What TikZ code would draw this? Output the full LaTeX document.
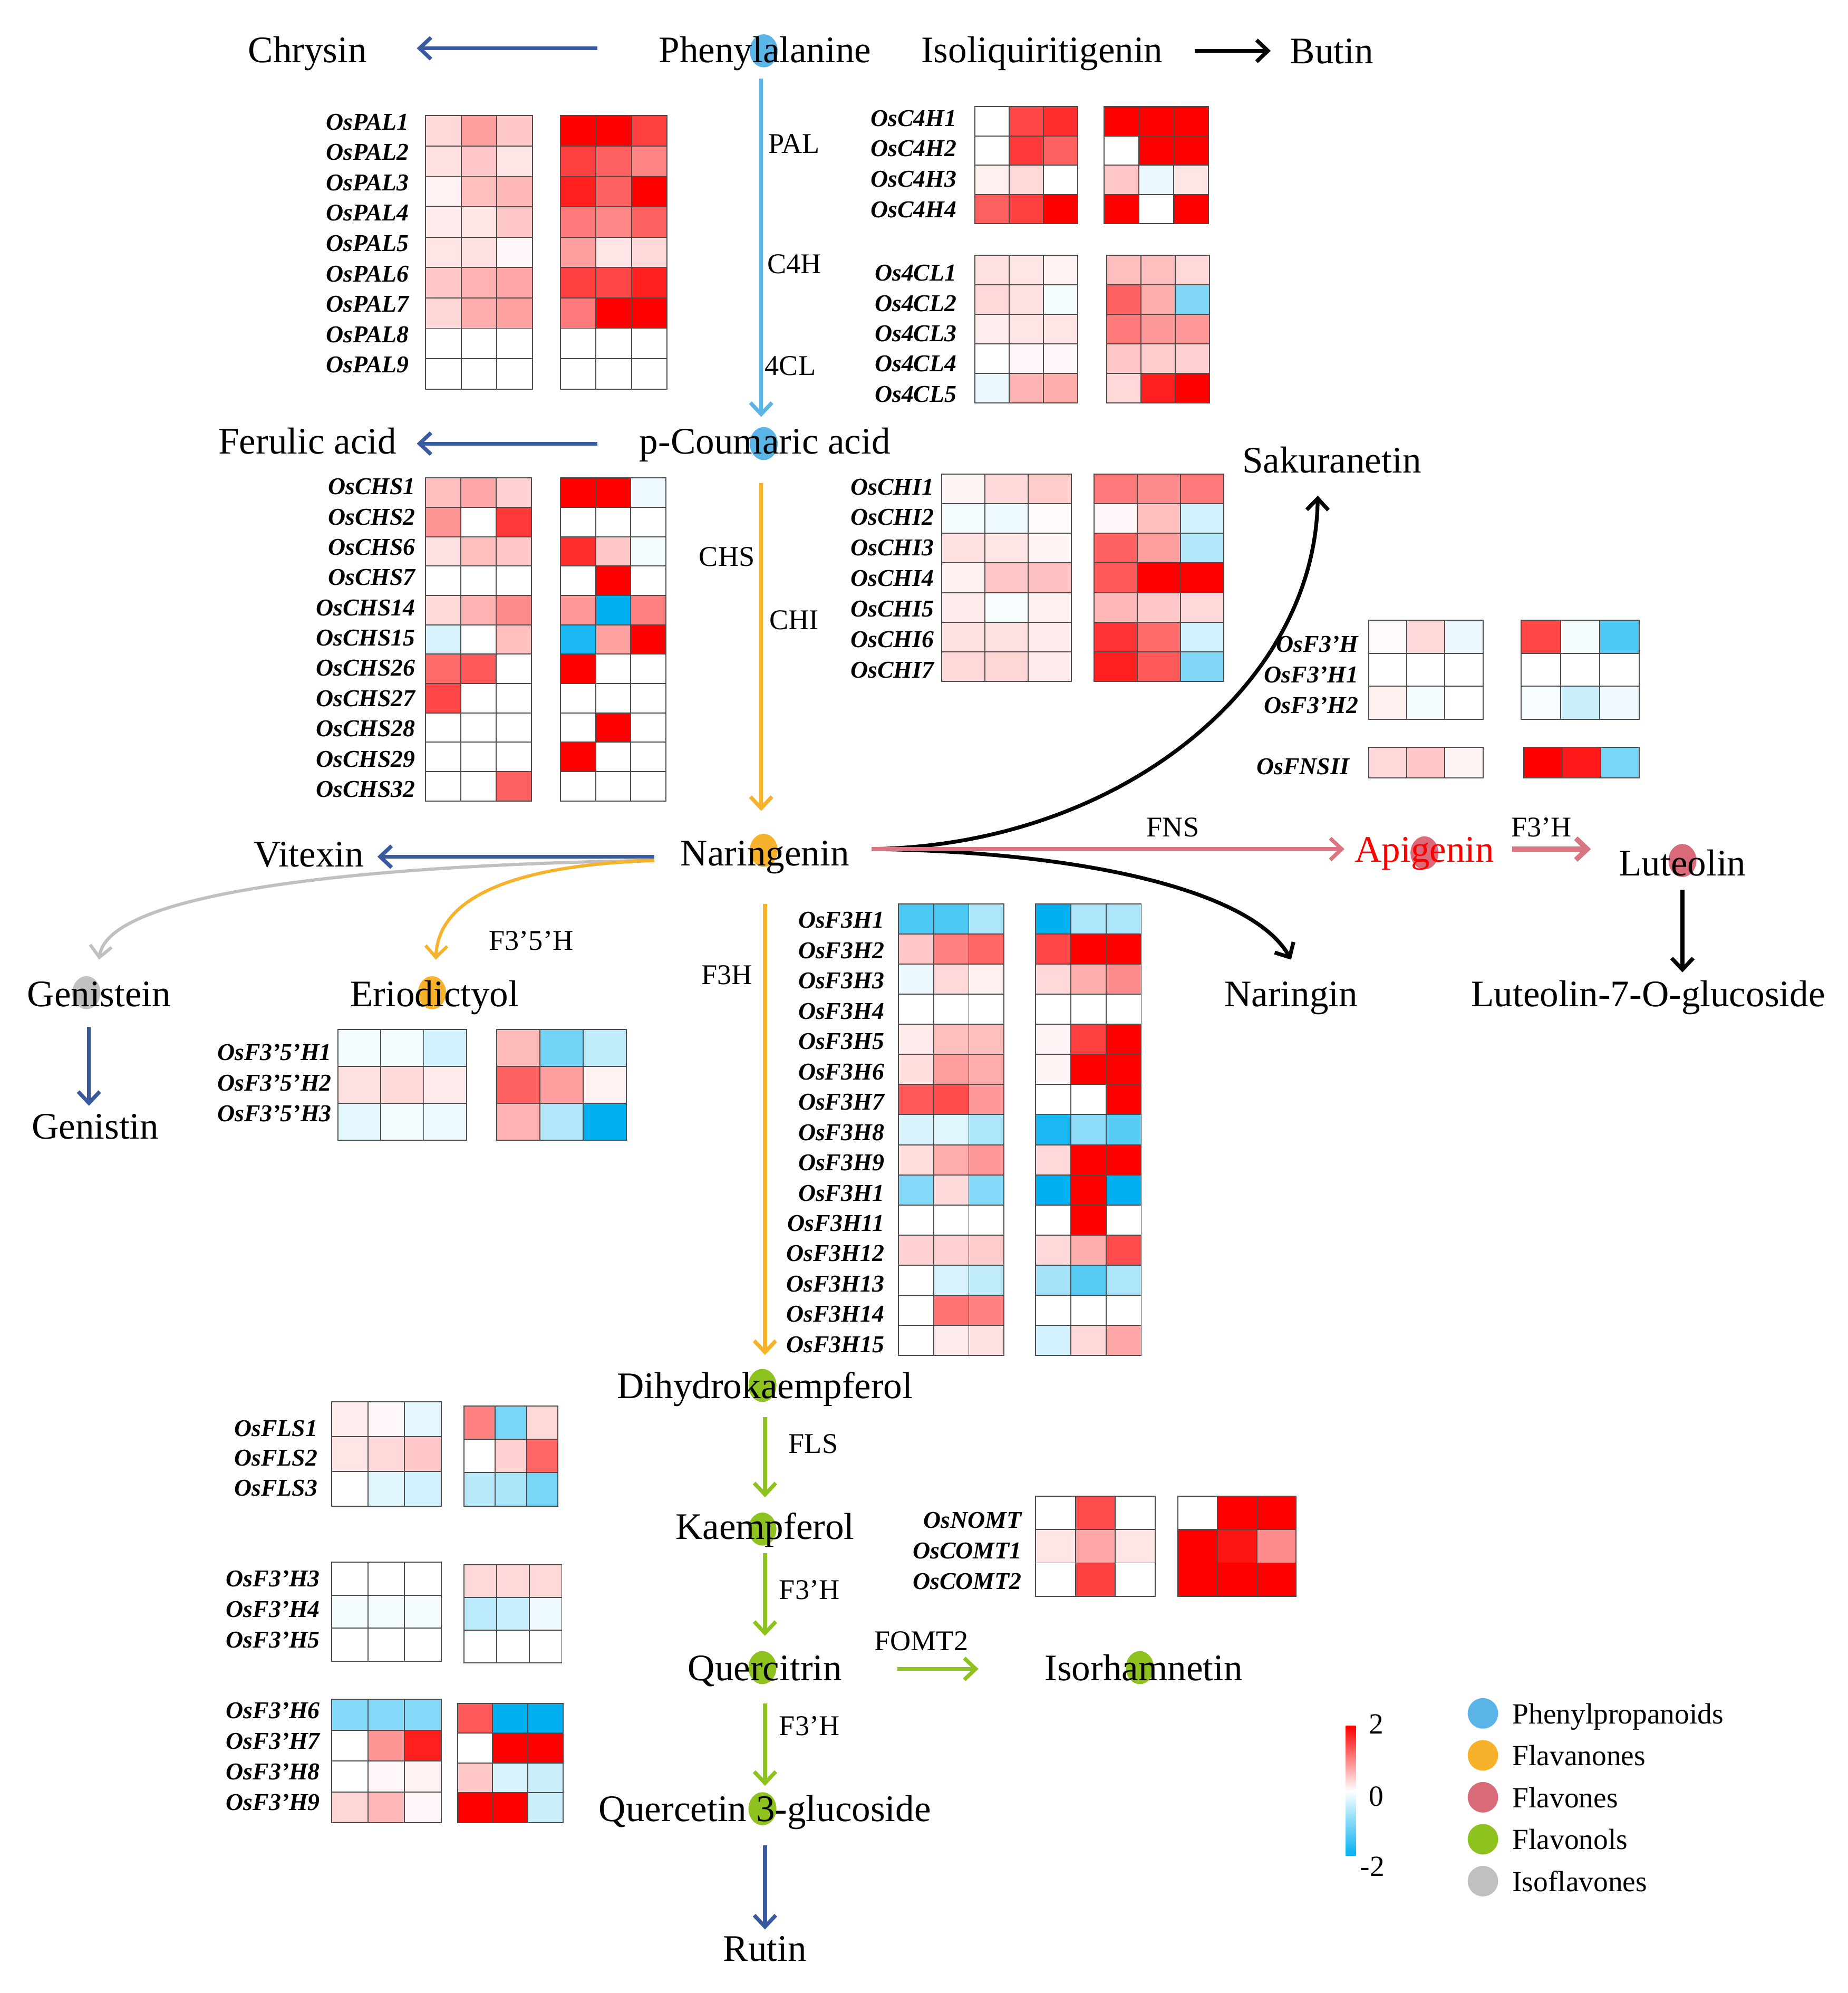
\documentclass[tikz,border=0pt]{standalone}
\usepackage{fontspec}
\setmainfont{Liberation Serif}
\usetikzlibrary{arrows.meta,calc}

\definecolor{hr}{RGB}{255,0,0}
\definecolor{hb}{RGB}{0,176,240}
\definecolor{phenyl}{RGB}{90,180,229}
\definecolor{flavanone}{RGB}{247,178,43}
\definecolor{flavone}{RGB}{217,107,120}
\definecolor{flavonol}{RGB}{141,194,31}
\definecolor{isoflav}{RGB}{192,192,192}
\definecolor{navy}{RGB}{58,90,160}
\definecolor{pinkline}{RGB}{217,117,128}

\tikzset{
  cmpd/.style={font=\fontsize{29.5}{32}\selectfont, inner sep=1pt, anchor=base},
  enz/.style={font=\fontsize{22.5}{24}\selectfont, inner sep=1pt},
  gene/.style={font=\fontsize{19}{20}\selectfont\bfseries\itshape, inner sep=1pt, anchor=east},
  legtext/.style={font=\fontsize{23}{25}\selectfont, inner sep=0pt, anchor=base west},
  hcell/.style={draw=black!70, line width=0.8pt},
  flux/.style={line width=3pt, -{Straight Barb[length=9pt,width=17pt]}}
}

\newcommand{\hmap}[5]{%
  \foreach \row [count=\i] in {#5} {
    \foreach \v [count=\j] in \row {
      \pgfmathtruncatemacro\hv{abs(\v)}
      \ifnum\v<0 \colorlet{hfill}{hb!\hv!white}\else\colorlet{hfill}{hr!\hv!white}\fi
      \draw[hcell, fill=hfill] ({#1+(\j-1)*#3},{#2+(\i-1)*#4}) rectangle ++(#3,#4);
    }
  }
}
\newcommand{\genelabels}[5]{%
  \foreach \g [count=\i] in {#5}
    \node[gene] (#1\i) at (#2,{#3+(\i-0.5)*#4}) {\g};
}

\begin{document}
\begin{tikzpicture}[x=1pt,y=-1pt]
\useasboundingbox (0,0) rectangle (1454,1568);

\fill[phenyl] (601,40) ellipse (11 and 13);
\fill[phenyl] (601,349) ellipse (11 and 13);
\fill[flavanone] (601,669) ellipse (11 and 13);
\fill[flavanone] (340,781) ellipse (11 and 13);
\fill[isoflav] (68,781) ellipse (11 and 13);
\fill[flavone] (1121,671) ellipse (11 and 13);
\fill[flavone] (1324,677) ellipse (11 and 13);
\fill[flavonol] (600,1090) ellipse (11 and 13);
\fill[flavonol] (600,1203) ellipse (11 and 13);
\fill[flavonol] (600,1312) ellipse (11 and 13);
\fill[flavonol] (897,1312) ellipse (11 and 13);
\fill[flavonol] (600,1423) ellipse (11 and 13);

\node[cmpd] (phe) at (602,49) {Phenylalanine};
\node[cmpd] (chr) at (242,49) {Chrysin};
\node[cmpd] (iso) at (820,49) {Isoliquiritigenin};
\node[cmpd] (but) at (1048,50) {Butin};
\node[cmpd] (pco) at (602,357) {p-Coumaric acid};
\node[cmpd] (fer) at (242,357) {Ferulic acid};
\node[cmpd] (sak) at (1048,372) {Sakuranetin};
\node[cmpd] (vit) at (243,682) {Vitexin};
\node[cmpd] (nar) at (602,681) {Naringenin};
\node[cmpd, text=red] (api) at (1121,678) {Apigenin};
\node[cmpd] (lut) at (1324,689) {Luteolin};
\node[cmpd] (gen) at (78,792) {Genistein};
\node[cmpd] (eri) at (342,792) {Eriodictyol};
\node[cmpd] (ngn) at (1016,792) {Naringin};
\node[cmpd] (l7g) at (1297,792) {Luteolin-7-O-glucoside};
\node[cmpd] (gst) at (75,896) {Genistin};
\node[cmpd] (dhk) at (602,1100) {Dihydrokaempferol};
\node[cmpd] (kae) at (602,1211) {Kaempferol};
\node[cmpd] (que) at (602,1322) {Quercitrin};
\node[cmpd] (irh) at (900,1322) {Isorhamnetin};
\node[cmpd] (q3g) at (602,1433) {Quercetin 3-glucoside};
\node[cmpd] (rut) at (602,1543) {Rutin};

\draw[flux, navy] ($(phe.base)+(-132,-11)$) -- ($(chr.base)+(86,-11)$);
\draw[flux, black] ($(iso.base)+(120,-9)$) -- ($(but.base)+(-48,-10)$);
\draw[flux, phenyl] ($(phe.base)+(-3,13)$) -- ($(pco.base)+(-3,-29)$);
\draw[flux, navy] ($(pco.base)+(-132,-8)$) -- ($(fer.base)+(86,-8)$);
\draw[flux, flavanone] ($(pco.base)+(-3,23)$) -- ($(nar.base)+(-3,-43)$);
\draw[flux, navy] ($(nar.base)+(-87,-7)$) -- ($(vit.base)+(54,-8)$);
\draw[flux, isoflav, line width=2.5pt] ($(nar.base)+(-87,-4)$) .. controls (300,680) and (85,700) .. ($(gen.base)+(0,-37)$);
\draw[flux, flavanone, line width=2.5pt] ($(nar.base)+(-87,-4)$) .. controls (420,680) and (345,700) .. ($(eri.base)+(1,-37)$);
\draw[flux, navy] ($(gen.base)+(-8,16)$) -- ($(gst.base)+(-5,-26)$);
\draw[flux, black] ($(nar.base)+(84,-13)$) .. controls (880,665) and (1035,540) .. ($(sak.base)+(-11,18)$);
\draw[flux, black] ($(nar.base)+(84,-13)$) .. controls (850,670) and (985,700) .. ($(ngn.base)+(0,-37)$);
\draw[flux, pinkline] ($(nar.base)+(84,-13)$) -- ($(api.base)+(-63,-10)$);
\draw[flux, pinkline, line width=4pt] ($(api.base)+(69,-10)$) -- ($(lut.base)+(-72,-21)$);
\draw[flux, black] ($(lut.base)+(0,11)$) -- ($(l7g.base)+(27,-27)$);
\draw[flux, flavanone] ($(nar.base)+(0,30)$) -- ($(dhk.base)+(0,-34)$);
\draw[flux, flavonol] ($(dhk.base)+(0,15)$) -- ($(kae.base)+(0,-33)$);
\draw[flux, flavonol] ($(kae.base)+(0,11)$) -- ($(que.base)+(0,-35)$);
\draw[flux, flavonol] ($(que.base)+(104,-9)$) -- ($(irh.base)+(-130,-9)$);
\draw[flux, flavonol] ($(que.base)+(0,18)$) -- ($(q3g.base)+(0,-28)$);
\draw[flux, navy] ($(q3g.base)+(0,19)$) -- ($(rut.base)+(0,-25)$);

\node[enz] (pal) at (625,113) {PAL};
\node[enz] (c4h) at (625,208) {C4H};
\node[enz] (fcl) at (622,288) {4CL};
\node[enz] (chs) at (572,438) {CHS};
\node[enz] (chi) at (625,488) {CHI};
\node[enz] (f35h) at (418,740) {F3'5'H};
\node[enz] (f3h) at (572,767) {F3H};
\node[enz] (fns) at (923,651) {FNS};
\node[enz] (f3ha) at (1213,651) {F3'H};
\node[enz] (fls) at (640,1136) {FLS};
\node[enz] (f3hb) at (637,1251) {F3'H};
\node[enz] (fomt) at (725,1291) {FOMT2};
\node[enz] (f3hc) at (637,1358) {F3'H};

\genelabels{pal}{323}{84}{23.9}{OsPAL1,OsPAL2,OsPAL3,OsPAL4,OsPAL5,OsPAL6,OsPAL7,OsPAL8,OsPAL9}
\hmap{335}{91}{28}{23.9}{{15,38,22},{12,22,10},{5,25,28},{8,10,22},{10,12,3},{22,30,35},{16,32,37},{0,0,0},{0,0,0}}
\hmap{441}{91}{28}{23.9}{{100,100,75},{75,62,48},{88,62,100},{52,47,62},{38,10,15},{75,72,88},{52,100,100},{0,0,0},{0,0,0}}

\genelabels{c4h}{754}{81}{24}{OsC4H1,OsC4H2,OsC4H3,OsC4H4}
\hmap{767}{84}{27}{23}{{0,72,82},{0,78,62},{6,15,0},{62,75,100}}
\hmap{869}{84}{27.3}{23}{{100,100,100},{0,100,100},{22,-8,10},{100,0,100}}

\genelabels{fcl}{754}{203}{23.8}{Os4CL1,Os4CL2,Os4CL3,Os4CL4,Os4CL5}
\hmap{767}{201}{27}{23.2}{{12,10,5},{15,12,-4},{7,10,10},{0,3,3},{-8,30,32}}
\hmap{871}{201}{27}{23.2}{{25,25,15},{62,32,-50},{52,40,40},{22,20,18},{15,88,100}}

\genelabels{chs}{328}{371}{23.8}{OsCHS1,OsCHS2,OsCHS6,OsCHS7,OsCHS14,OsCHS15,OsCHS26,OsCHS27,OsCHS28,OsCHS29,OsCHS32}
\hmap{335}{376}{27.7}{23.1}{{25,35,18},{42,0,78},{12,25,22},{0,0,0},{14,30,45},{-15,0,25},{58,65,0},{72,0,0},{0,0,0},{0,0,0},{0,0,62}}
\hmap{441}{376}{27.7}{23.1}{{100,100,-7},{0,0,0},{82,22,-5},{0,100,0},{40,-100,50},{-90,37,100},{100,0,0},{0,0,0},{0,100,0},{100,0,0},{0,0,0}}

\genelabels{chi}{736}{371}{24}{OsCHI1,OsCHI2,OsCHI3,OsCHI4,OsCHI5,OsCHI6,OsCHI7}
\hmap{741}{373}{34}{23.3}{{4,14,20},{-4,-7,2},{12,10,4},{6,22,24},{8,-3,6},{12,12,8},{15,16,8}}
\hmap{861}{373}{34}{23.3}{{52,45,52},{3,25,-18},{62,38,-30},{65,100,100},{28,22,15},{80,58,-18},{88,65,-50}}

\genelabels{fth}{1070}{495}{24}{OsF3'H,OsF3'H1,OsF3'H2}
\hmap{1077}{488}{30}{26}{{2,15,-8},{0,0,0},{6,-4,0}}
\hmap{1197}{488}{31}{26}{{72,-4,-70},{0,0,0},{-3,-20,-6}}

\genelabels{fns}{1063}{591}{24}{OsFNSII}
\hmap{1077}{588}{30}{24}{{15,22,4}}
\hmap{1199}{588}{30.3}{24}{{100,90,-52}}

\genelabels{ffh}{262}{816}{24}{OsF3'5'H1,OsF3'5'H2,OsF3'5'H3}
\hmap{266}{810}{33.7}{29}{{-5,-5,-18},{12,14,8},{-10,-5,-7}}
\hmap{391}{810}{34}{29}{{27,-55,-25},{62,38,5},{30,-30,-100}}

\genelabels{fhh}{697}{712}{23.85}{OsF3H1,OsF3H2,OsF3H3,OsF3H4,OsF3H5,OsF3H6,OsF3H7,OsF3H8,OsF3H9,OsF3H1,OsF3H11,OsF3H12,OsF3H13,OsF3H14,OsF3H15}
\hmap{707}{711}{27.7}{23.7}{{-70,-70,-32},{22,50,60},{-8,15,6},{0,0,0},{8,25,25},{13,38,32},{65,70,40},{-15,-12,-32},{13,32,40},{-48,14,-48},{0,0,0},{18,18,20},{0,-15,-25},{0,55,50},{0,8,12}}
\hmap{815}{711}{27.7}{23.7}{{-100,-32,-32},{72,100,100},{15,32,45},{0,0,0},{4,75,100},{4,100,100},{0,0,100},{-90,-45,-65},{15,100,100},{-100,100,-100},{0,100,0},{15,32,70},{-35,-65,-32},{0,0,0},{-18,15,35}}

\genelabels{fls}{251}{1112}{23.5}{OsFLS1,OsFLS2,OsFLS3}
\hmap{261}{1103}{28.7}{27.3}{{7,3,-10},{10,15,22},{0,-12,-18}}
\hmap{365}{1106}{24.7}{26.3}{{50,-52,15},{0,18,60},{-28,-33,-52}}

\genelabels{fha}{253}{1230}{24}{OsF3'H3,OsF3'H4,OsF3'H5}
\hmap{261}{1229}{28.7}{26}{{0,0,0},{-4,-4,-4},{0,0,0}}
\hmap{365}{1231}{25.7}{25.7}{{15,15,15},{-27,-22,-7},{0,0,0}}

\genelabels{fhb}{253}{1334}{24}{OsF3'H6,OsF3'H7,OsF3'H8,OsF3'H9}
\hmap{261}{1337}{28.7}{24.25}{{-48,-48,-48},{0,42,88},{0,3,5},{16,28,3}}
\hmap{360}{1340}{27.7}{23.5}{{65,-100,-100},{0,100,100},{22,-15,-20},{100,100,-20}}

\genelabels{omt}{805}{1184}{24}{OsNOMT,OsCOMT1,OsCOMT2}
\hmap{815}{1177}{31.3}{26.3}{{0,70,0},{10,35,10},{0,75,0}}
\hmap{927}{1177}{31}{26.3}{{0,100,100},{100,92,45},{100,100,100}}

\shade[top color=hr, bottom color=white] (1059,1358) rectangle (1067,1409);
\shade[top color=white, bottom color=hb] (1059,1409) rectangle (1067,1460);
\node[legtext, anchor=base] (cbtop) at (1083,1364) {2};
\node[legtext, anchor=base] (cbmid) at (1083,1421) {0};
\node[legtext, anchor=base] (cbbot) at (1080,1476) {-2};

\fill[phenyl] (1167,1348) circle (12);
\fill[flavanone] (1167,1381) circle (12);
\fill[flavone] (1167,1414) circle (12);
\fill[flavonol] (1167,1447) circle (12);
\fill[isoflav] (1167,1480) circle (12);
\node[legtext] (lgphe) at (1190,1356) {Phenylpropanoids};
\node[legtext] (lgfan) at (1190,1389) {Flavanones};
\node[legtext] (lgfon) at (1190,1422) {Flavones};
\node[legtext] (lgfol) at (1190,1455) {Flavonols};
\node[legtext] (lgiso) at (1190,1488) {Isoflavones};
\end{tikzpicture}
\end{document}
